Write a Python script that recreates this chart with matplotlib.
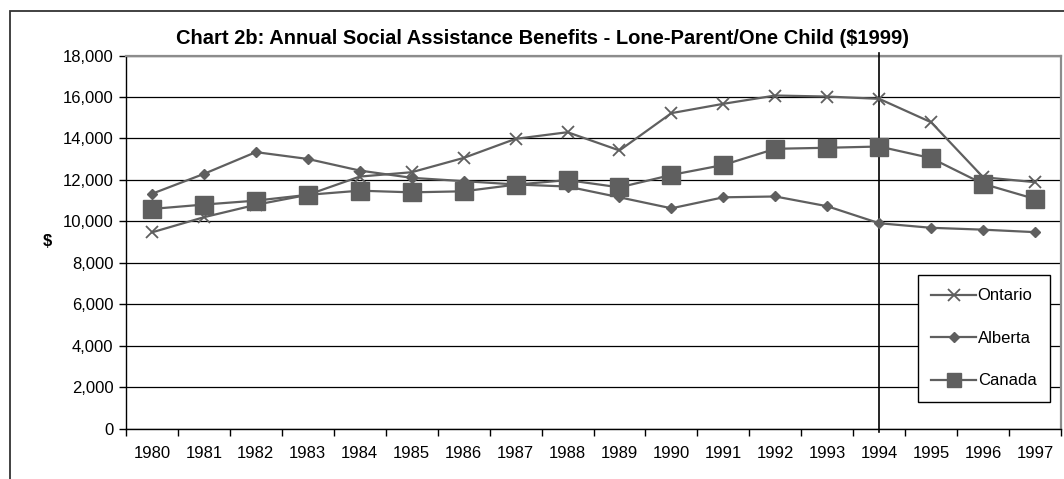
import matplotlib
matplotlib.use("Agg")
import matplotlib.pyplot as plt
from matplotlib.patches import Rectangle
from matplotlib.ticker import FuncFormatter, FixedLocator

years = [str(y) for y in range(1980, 1998)]
ontario = [9470, 10200, 10800, 11280, 12160, 12370, 13060, 13980, 14300, 13420,
           15220, 15670, 16070, 16020, 15910, 14780, 12130, 11890]
alberta = [11330, 12290, 13340, 13010, 12450, 12100, 11940, 11780, 11680, 11160,
           10630, 11160, 11200, 10730, 9910, 9690, 9600, 9480]
canada = [10600, 10810, 11000, 11280, 11480, 11400, 11450, 11770, 11990, 11640,
          12240, 12720, 13500, 13550, 13610, 13050, 11810, 11080]
yticks = list(range(0, 18001, 2000))
marker_year = "1994"

plt.rcParams['font.family'] = ['Liberation Sans', 'DejaVu Sans']
plt.rcParams['font.size'] = 12

W, H = 1064, 479
fig = plt.figure(figsize=(W / 100, H / 100), dpi=100)
ax = fig.add_axes([126 / W, 1 - 428.7 / H, (1061 - 126) / W, (428.7 - 55.5) / H])

gray = '#5f5f5f'
x = list(range(len(years)))
ax.plot(x, ontario, color=gray, lw=1.6, marker='x', ms=8.5, mew=1.3, label='Ontario', zorder=4)
ax.plot(x, alberta, color=gray, lw=1.6, marker='D', ms=5.5, mfc=gray, mec=gray, label='Alberta', zorder=4)
ax.plot(x, canada, color=gray, lw=1.6, marker='s', ms=12.5, mfc=gray, mec=gray, label='Canada', zorder=4)

ax.set_xlim(-0.5, len(years) - 0.5)
ax.set_ylim(0, 18000)
ax.set_yticks(yticks)
ax.yaxis.set_major_formatter(FuncFormatter(lambda v, p: f"{int(v):,}"))
ax.set_xticks(x)
ax.set_xticklabels(years)
ax.xaxis.set_minor_locator(FixedLocator([i - 0.5 for i in range(len(years) + 1)]))
ax.tick_params(axis='x', which='major', length=0, pad=12.5, labelsize=12)
ax.tick_params(axis='x', which='minor', length=5, width=1, color='black', direction='out')
ax.tick_params(axis='y', length=5, width=1, color='black', pad=4, labelsize=12)

ax.grid(axis='y', color='black', lw=0.9, zorder=1)
ax.set_axisbelow(True)
for s in ['top', 'right']:
    ax.spines[s].set_color('#8c8c8c')
    ax.spines[s].set_linewidth(1.6)
for s in ['left', 'bottom']:
    ax.spines[s].set_color('black')
    ax.spines[s].set_linewidth(1.0)

xi = years.index(marker_year)
ax.plot([xi, xi], [-150, 18130], color='black', lw=1.2, clip_on=False, zorder=3)

fig.text(47 / W, 1 - 241 / H, '$', fontweight='bold', fontsize=12, ha='center', va='center')

fig.text(543 / W, 1 - 38 / H,
         'Chart 2b: Annual Social Assistance Benefits - Lone-Parent/One Child ($1999)',
         fontweight='bold', fontsize=14.5, ha='center', va='center')

leg = ax.legend(loc='upper left', bbox_to_anchor=(917.7 / W, 1 - 275 / H),
                bbox_transform=fig.transFigure, borderaxespad=0, frameon=True,
                fancybox=False, edgecolor='black', framealpha=1, handlelength=2.7,
                labelspacing=1.65, handletextpad=0.1, borderpad=0.8, fontsize=12)
leg.get_frame().set_linewidth(1.0)
leg.set_zorder(6)
leg.legend_handles[2].set_markersize(9.5)

fig.patches.append(Rectangle((10 / W, -0.1), 1.2, 1 - 11 / H + 0.1, transform=fig.transFigure,
                             fill=False, edgecolor='#333333', lw=1.3))

fig.savefig('out.png', dpi=100)
